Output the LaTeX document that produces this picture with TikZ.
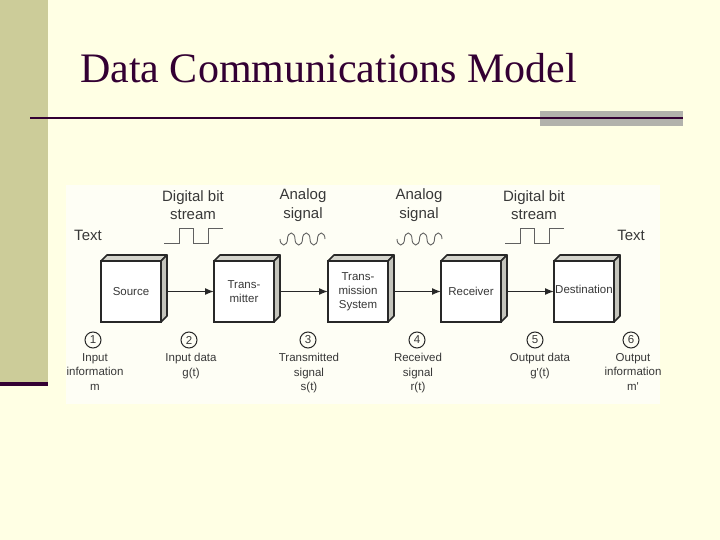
\documentclass[tikz,border=0pt]{standalone}
\usepackage{fontspec}
\setmainfont{Liberation Serif}
\newfontfamily\diagfont{Liberation Sans}
\usetikzlibrary{arrows.meta}

\definecolor{slidebg}{RGB}{255,255,228}
\definecolor{panelbg}{RGB}{254,254,245}
\definecolor{strip}{RGB}{204,204,153}
\definecolor{plum}{RGB}{51,0,51}
\definecolor{barbg}{RGB}{178,178,172}
\definecolor{ink}{RGB}{56,56,56}
\definecolor{edge}{RGB}{40,40,40}
\definecolor{topface}{RGB}{212,212,204}
\definecolor{sideface}{RGB}{196,196,188}

\begin{document}
\begin{tikzpicture}[x=1pt,y=-1pt,
        block/.style={draw=edge,line width=1.6pt,fill=white,minimum width=60pt,minimum height=61pt,
          inner sep=0pt,outer sep=0pt,align=center,text=ink,font=\diagfont\fontsize{11.5}{14}\selectfont},
        face/.style={draw=edge,line width=1.6pt,line join=round},
        link/.style={draw=edge,line width=1.3pt,-{Latex[length=9pt,width=7pt]}},
        caption/.style={text=ink,align=center,inner sep=0pt,font=\diagfont\fontsize{15}{18.5}\selectfont},
        stage/.style={circle,draw=edge,line width=1pt,minimum size=16pt,inner sep=0pt,text=ink,
          font=\diagfont\fontsize{11.5}{13}\selectfont},
        note/.style={anchor=north,inner sep=0pt,text=ink,align=center,font=\diagfont\fontsize{11.5}{14.5}\selectfont},
        wave/.style={draw=ink!80,line width=0.9pt}]
        \useasboundingbox (0,0) rectangle (720,540);
        \fill[slidebg] (0,0) rectangle (720,540);
        \fill[strip] (0,0) rectangle (48,382);
        \fill[plum] (0,382) rectangle (48,386);

        \node[anchor=base west,inner sep=0pt,text=plum,font=\fontsize{42}{48}\selectfont] (title) at (80,83) {Data Communications Model};
        \fill[barbg] (540,111) rectangle (683,126);
        \draw[plum,line width=2.5pt] (30,118) -- (683,118);

        \fill[panelbg] (66,185) rectangle (660,404);

        \node[block] (SRC) at (131,291.5) {Source};
        \node[block] (TX) at (244,291.5) {Trans-\\mitter};
        \node[block] (SYS) at (358,291.5) {Trans-\\mission\\System};
        \node[block] (RX) at (471,291.5) {Receiver};
        \node[block] (DST) at (584,291.5) {\raisebox{4pt}{Destination}};

        \foreach \b in {SRC,TX,SYS,RX,DST} {
          \filldraw[face,fill=topface] (\b.north west) -- ++(6,-6) -- ++(60,0) -- (\b.north east) -- cycle;
          \filldraw[face,fill=sideface] (\b.north east) -- ++(6,-6) -- ++(0,61) -- (\b.south east) -- cycle;
        }

        \draw[link] ([xshift=6pt]SRC.east) -- (TX.west);
        \draw[link] ([xshift=6pt]TX.east) -- (SYS.west);
        \draw[link] ([xshift=6pt]SYS.east) -- (RX.west);
        \draw[link] ([xshift=6pt]RX.east) -- (DST.west);

        \node[caption] (BITS) at (193,205) {Digital bit\\stream};
        \node[caption] (ANA) at (303,205) {Analog\\signal};
        \node[caption] (ANB) at (419,205) {Analog\\signal};
        \node[caption] (BITR) at (534,205) {Digital bit\\stream};
        \node[caption] (TIN) at (88,235) {Text};
        \node[caption] (TOUT) at (631,235) {Text};

        \foreach \sx in {164,505}
          \draw[wave] (\sx,243) -- ++(15,0) -- ++(0,-15) -- ++(14,0) -- ++(0,15) -- ++(15,0) -- ++(0,-15) -- ++(15,0);
        \foreach \sx in {280,397}
          \draw[wave] (\sx,239)
            arc[start angle=180,end angle=0,x radius=3.75,y radius=6]
            arc[start angle=180,end angle=360,x radius=3.75,y radius=6]
            arc[start angle=180,end angle=0,x radius=3.75,y radius=6]
            arc[start angle=180,end angle=360,x radius=3.75,y radius=6]
            arc[start angle=180,end angle=0,x radius=3.75,y radius=6]
            arc[start angle=180,end angle=360,x radius=3.75,y radius=6];

        \node[stage] (C1) at (93,340) {1};
        \node[stage] (C2) at (189,340) {2};
        \node[stage] (C3) at (308,340) {3};
        \node[stage] (C4) at (417,340) {4};
        \node[stage] (C5) at (535,340) {5};
        \node[stage] (C6) at (631,340) {6};

        \node[note] (M) at (95,353) {Input\\information\\m};
        \node[note] (G) at (191,353) {Input data\\g(t)};
        \node[note] (S) at (309,353) {Transmitted\\signal\\s(t)};
        \node[note] (R) at (418,353) {Received\\signal\\r(t)};
        \node[note] (GP) at (540,353) {Output data\\g\textquotesingle(t)};
        \node[note] (MP) at (633,353) {Output\\information\\m\textquotesingle};
      \end{tikzpicture}
\end{document}
